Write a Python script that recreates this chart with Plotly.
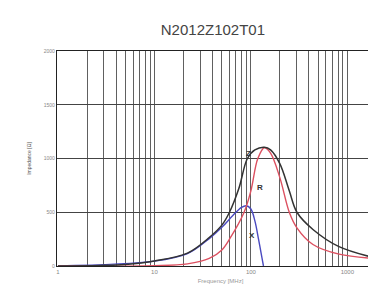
import math
import plotly.graph_objects as go

# Frequency (MHz) and impedance values (Ohm)
freq_z = [1, 2.7, 5, 10, 22, 37, 50, 60, 75, 92, 110, 138, 160, 200, 250, 300, 440, 820, 1950]
z_vals = [0.5, 5, 15, 47, 120, 265, 380, 500, 720, 1000, 1080, 1105, 1080, 950, 700, 500, 340, 180, 75]

freq_r = [1, 10, 22, 37, 50, 60, 85, 100, 118, 138, 160, 200, 250, 300, 440, 820, 1950]
r_vals = [0, 3, 20, 70, 150, 250, 500, 700, 1000, 1100, 1050, 820, 500, 355, 200, 110, 70]

freq_x = [1, 10, 22, 37, 50, 65, 80, 90, 100, 110, 120, 130, 135]
x_vals = [0.5, 45, 115, 255, 360, 470, 545, 560, 530, 420, 250, 80, 0]

title_text = "N2012Z102T01"
y_title = "Impedance [Ω]"
x_title = "Frequency [MHz]"
x_tick_vals = [1, 10, 100, 1000]
x_tick_text = ["1", "10", "100", "1000"]
y_tick_vals = [0, 500, 1000, 1500, 2000]

# curve labels (frequency, impedance)
labels = [("Z", 95, 1050), ("R", 124, 726), ("X", 102, 288)]

fig = go.Figure()
fig.add_trace(go.Scatter(x=freq_x, y=x_vals, mode="lines",
                         line=dict(color="#4a4ac0", width=1.4, shape="spline"), name="X"))
fig.add_trace(go.Scatter(x=freq_r, y=r_vals, mode="lines",
                         line=dict(color="#dc5060", width=1.4, shape="spline"), name="R"))
fig.add_trace(go.Scatter(x=freq_z, y=z_vals, mode="lines",
                         line=dict(color="#333333", width=1.5, shape="spline"), name="Z"))

for t, fx, fy in labels:
    fig.add_annotation(x=math.log10(fx), y=fy, text="<b>" + t + "</b>", showarrow=False,
                       font=dict(size=8, color="#333333", family="Liberation Sans"))

fig.update_layout(
    width=376, height=290,
    margin=dict(l=49, r=0, t=43, b=32, autoexpand=False),
    paper_bgcolor="white", plot_bgcolor="white",
    showlegend=False,
    title=dict(text=title_text, xref="container", yref="container",
               x=0.545, xanchor="center", y=0.924, yanchor="middle",
               font=dict(size=15, color="#444444", family="Liberation Sans")),
    font=dict(family="Liberation Sans", color="#777777", size=5),
)
fig.update_xaxes(type="log", range=[-0.01, 3.38], tickvals=x_tick_vals, ticktext=x_tick_text,
                 showgrid=True, gridcolor="#606060", gridwidth=1.2,
                 minor=dict(showgrid=True, gridcolor="#606060", gridwidth=1.2, dtick="D1"),
                 showline=True, linecolor="#222222", linewidth=1.2, mirror=True,
                 ticks="", tickfont=dict(size=6, color="#888888"), automargin=False,
                 title=dict(text=x_title, font=dict(size=6, color="#999999"), standoff=4),
                 zeroline=False)
fig.update_yaxes(range=[0, 2000], tickvals=y_tick_vals,
                 showgrid=True, gridcolor="#444444", gridwidth=1.2,
                 showline=True, linecolor="#222222", linewidth=1.2, mirror=True,
                 ticks="", tickfont=dict(size=5, color="#888888"), automargin=False,
                 title=dict(text=y_title, font=dict(size=5, color="#555555"), standoff=12),
                 zeroline=False)

fig.write_html("out.html")
